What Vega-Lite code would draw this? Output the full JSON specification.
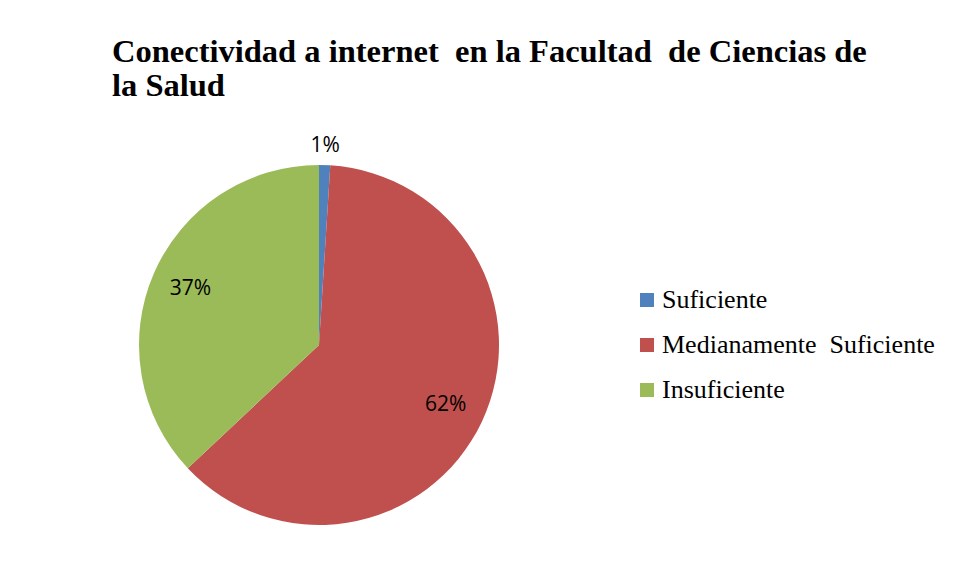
{
  "$schema": "https://vega.github.io/schema/vega-lite/v6.json",
  "autosize": "none",
  "width": 638,
  "height": 450,
  "padding": {"left": 0, "top": 120, "right": 320, "bottom": 7},
  "background": "white",
  "config": {"view": {"stroke": null}},
  "title": {
    "text": ["Conectividad a internet \u00a0en la Facultad \u00a0de Ciencias de", "la Salud"],
    "anchor": "start",
    "frame": "group",
    "dx": 112,
    "offset": 18,
    "font": "Liberation Serif",
    "fontSize": 32.5,
    "fontWeight": "bold",
    "color": "#000000",
    "lineHeight": 34
  },
  "data": {
    "values": [
      {"categoria": "Suficiente", "porcentaje": 0.01, "orden": 1},
      {"categoria": "Medianamente \u00a0Suficiente", "porcentaje": 0.62, "orden": 2},
      {"categoria": "Insuficiente", "porcentaje": 0.37, "orden": 3}
    ]
  },
  "layer": [
    {
      "mark": {"type": "arc", "outerRadius": 180, "stroke": null},
      "encoding": {
        "theta": {"field": "porcentaje", "type": "quantitative", "stack": true},
        "order": {"field": "orden", "type": "quantitative"},
        "color": {
          "field": "categoria",
          "type": "nominal",
          "scale": {
            "domain": ["Suficiente", "Medianamente \u00a0Suficiente", "Insuficiente"],
            "range": ["#4F81BD", "#C0504D", "#9BBB59"]
          },
          "legend": {
            "title": null,
            "orient": "none",
            "legendX": 634,
            "legendY": 167,
            "symbolType": "square",
            "symbolSize": 196,
            "symbolStrokeWidth": 0,
            "labelFont": "Liberation Serif",
            "labelFontSize": 26,
            "labelColor": "#000000",
            "labelOffset": 2,
            "labelLimit": 0,
            "rowPadding": 19,
            "padding": 0
          }
        }
      }
    },
    {
      "mark": {
        "type": "text",
        "radius": {"expr": "datum.porcentaje < 0.05 ? 199 : 140"},
        "font": "Open Sans",
        "fontSize": 21,
        "fill": "#000000"
      },
      "encoding": {
        "theta": {"field": "porcentaje", "type": "quantitative", "stack": true},
        "order": {"field": "orden", "type": "quantitative"},
        "text": {"field": "porcentaje", "type": "quantitative", "format": ".0%"}
      }
    }
  ]
}
